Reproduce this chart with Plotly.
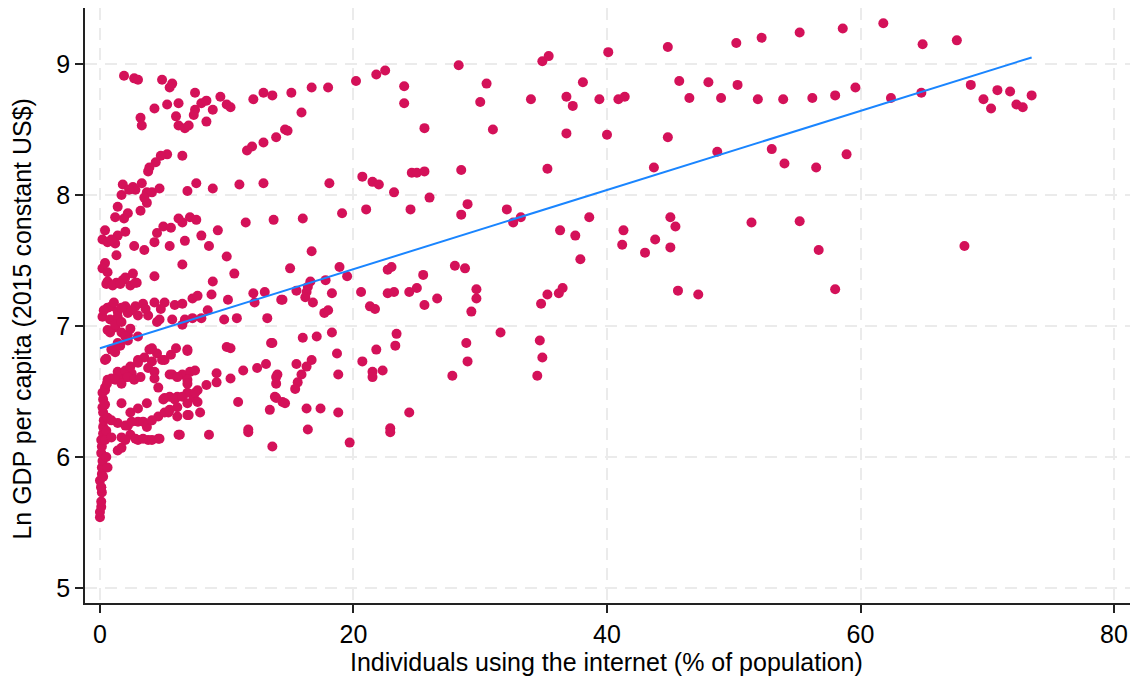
import numpy as np
import plotly.graph_objects as go

# Country-year observations: (internet users, % of population ; ln GDP per capita, 2015 US$)
low_use_rich = [
    (1.9, 8.91), (2.7, 8.89), (3.0, 8.88), (4.9, 8.88), (5.7, 8.85), (5.5, 8.82), (7.5, 8.78), (9.5, 8.75),
    (8.0, 8.70), (8.4, 8.72), (6.2, 8.70), (5.3, 8.69), (4.3, 8.66), (8.9, 8.65), (10.0, 8.69), (10.3, 8.67),
    (12.1, 8.73), (12.9, 8.78), (13.6, 8.76), (6.0, 8.60), (7.5, 8.65), (7.4, 8.61), (8.4, 8.56), (3.2, 8.59),
    (3.3, 8.53), (6.2, 8.53), (6.7, 8.51), (7.0, 8.53), (14.6, 8.50), (13.9, 8.44), (12.9, 8.40), (12.0, 8.37),
    (11.6, 8.34), (6.5, 8.30), (5.3, 8.31), (4.8, 8.30), (4.4, 8.25), (3.9, 8.21), (3.8, 8.18), (1.8, 8.08),
    (1.7, 8.00), (2.6, 8.06), (2.8, 8.04), (3.3, 8.09), (3.7, 8.02), (4.1, 8.02), (4.7, 8.05), (6.9, 8.03),
    (7.6, 8.09), (8.9, 8.05), (11.0, 8.08), (12.9, 8.09),
]

low_use_upper_mid = [
    (2.3, 8.04), (3.7, 7.94), (3.5, 7.98), (3.2, 7.88), (1.4, 7.91), (2.2, 7.86), (1.2, 7.83), (1.9, 7.82),
    (0.4, 7.73), (0.2, 7.66), (0.6, 7.64), (1.4, 7.69), (2.0, 7.72), (1.2, 7.63), (0.9, 7.66), (4.5, 7.71),
    (5.0, 7.76), (5.6, 7.75), (6.2, 7.82), (6.5, 7.79), (7.1, 7.83), (7.6, 7.81), (4.3, 7.64), (2.7, 7.61),
    (3.5, 7.58), (5.5, 7.61), (6.7, 7.65), (8.0, 7.69), (8.6, 7.61), (9.3, 7.73), (11.5, 7.79), (13.7, 7.81),
    (1.3, 7.54), (10.0, 7.53), (0.4, 7.48), (0.2, 7.44), (0.6, 7.41), (0.6, 7.34), (1.3, 7.33), (1.8, 7.35),
    (2.0, 7.37), (2.6, 7.40), (2.9, 7.33), (4.3, 7.38), (6.5, 7.47), (8.9, 7.34), (10.6, 7.40),
]

low_use_mid = [
    (0.5, 7.32), (1.0, 7.31), (1.6, 7.32), (2.4, 7.31), (2.8, 7.33), (0.6, 7.14), (0.9, 7.15), (1.4, 7.11),
    (2.0, 7.15), (2.8, 7.15), (3.4, 7.17), (4.3, 7.18), (5.1, 7.18), (5.9, 7.16), (6.5, 7.17), (7.3, 7.21),
    (7.7, 7.23), (8.8, 7.24), (10.1, 7.20), (12.1, 7.25), (13.0, 7.26), (14.4, 7.20), (0.2, 7.07), (0.8, 7.05),
    (1.4, 7.07), (2.2, 7.10), (3.0, 7.08), (3.8, 7.08), (4.5, 7.03), (4.7, 7.05), (5.7, 7.05), (6.5, 7.01),
    (6.7, 7.05), (7.3, 7.06), (8.0, 7.06), (8.5, 7.12), (9.8, 7.05), (10.8, 7.06), (12.2, 7.18), (13.2, 7.06),
    (0.3, 7.12), (1.1, 7.18), (1.7, 7.14), (2.5, 7.12), (3.6, 7.13), (4.8, 7.13), (0.8, 6.95), (1.2, 6.99),
    (1.7, 6.95), (2.2, 6.93), (3.0, 6.92), (0.6, 6.97), (1.2, 7.01), (1.7, 7.03), (2.4, 6.98),
]

low_use_lower_mid = [
    (0.4, 6.74), (0.9, 6.82), (1.4, 6.87), (2.0, 6.92), (0.5, 6.75), (1.2, 6.80), (1.6, 6.85), (2.2, 6.89),
    (3.0, 6.74), (3.5, 6.76), (3.9, 6.82), (4.5, 6.79), (5.1, 6.74), (5.6, 6.78), (6.0, 6.83), (6.9, 6.82),
    (4.1, 6.83), (4.9, 6.74), (4.1, 6.73), (2.5, 6.64), (2.0, 6.61), (1.4, 6.61), (0.9, 6.60), (1.4, 6.65),
    (2.0, 6.66), (2.4, 6.69), (3.0, 6.72), (3.8, 6.68), (4.3, 6.65), (6.9, 6.81), (10.0, 6.84), (10.3, 6.83),
    (13.5, 6.87), (9.2, 6.64), (10.3, 6.60), (11.3, 6.66), (12.4, 6.68), (13.1, 6.71), (14.0, 6.63), (5.7, 6.63),
    (6.5, 6.63), (7.1, 6.65), (0.6, 6.59), (0.4, 6.51), (1.2, 6.59), (1.7, 6.56), (2.2, 6.61), (2.7, 6.59),
    (3.2, 6.61), (4.3, 6.60), (4.6, 6.53), (5.5, 6.63), (6.1, 6.61), (6.9, 6.59), (7.5, 6.66), (5.1, 6.45),
    (5.5, 6.46), (6.1, 6.46), (6.9, 6.49), (7.4, 6.45), (6.9, 6.56), (7.7, 6.51), (8.4, 6.55), (9.2, 6.57),
    (13.9, 6.61), (13.9, 6.56), (13.8, 6.46), (13.4, 6.36), (14.4, 6.42), (10.9, 6.42),
]

low_use_poor = [
    (0.0, 5.54), (0.0, 5.58), (0.1, 5.62), (0.1, 5.66), (0.15, 5.73), (0.1, 5.77), (0.0, 5.82), (0.15, 5.87),
    (0.15, 5.92), (0.2, 5.97), (0.1, 6.03), (0.15, 6.08), (0.1, 6.13), (0.25, 6.18), (0.25, 6.23), (0.3, 6.28),
    (0.25, 6.34), (0.2, 6.38), (0.25, 6.44), (0.2, 6.49), (0.4, 6.53), (0.55, 6.56), (0.2, 6.13), (0.5, 6.00),
    (0.6, 5.92), (0.25, 5.85), (0.1, 5.77), (0.4, 6.40), (0.5, 6.20), (0.6, 6.30),
    (1.7, 6.41), (2.4, 6.34), (3.0, 6.37), (3.7, 6.41), (5.0, 6.44), (5.9, 6.44), (6.5, 6.46), (6.9, 6.41),
    (1.4, 6.26), (2.2, 6.24), (3.0, 6.27), (3.7, 6.23), (4.6, 6.31), (5.4, 6.34), (6.1, 6.31), (7.0, 6.32),
    (1.7, 6.15), (2.4, 6.17), (3.0, 6.13), (3.8, 6.13), (4.6, 6.14), (6.2, 6.17), (1.4, 6.05), (1.7, 6.07),
    (0.9, 6.28), (2.0, 6.24), (2.5, 6.27), (3.4, 6.27), (4.1, 6.28), (5.1, 6.34), (5.5, 6.36), (6.1, 6.38),
    (7.5, 6.49), (0.4, 6.13), (0.9, 6.15), (2.0, 6.13), (2.8, 6.14), (3.4, 6.14), (4.1, 6.13), (4.7, 6.14),
    (6.3, 6.17), (8.6, 6.17), (11.7, 6.19), (13.6, 6.08), (7.7, 6.42), (7.9, 6.34), (6.9, 6.32), (11.7, 6.21),
]

mid_use = [
    (15.1, 8.78), (16.7, 8.82), (18.0, 8.82), (20.2, 8.87), (21.8, 8.92), (22.5, 8.95), (24.0, 8.83), (24.0, 8.70),
    (28.3, 8.99), (30.5, 8.85), (30.0, 8.71), (31.0, 8.50), (25.6, 8.51), (15.9, 8.63), (14.8, 8.49), (18.1, 8.09),
    (20.7, 8.14), (21.5, 8.10), (22.0, 8.08), (23.2, 8.02), (24.6, 8.17), (25.0, 8.17), (25.6, 8.18), (26.0, 7.98),
    (24.5, 7.89), (28.5, 8.19), (29.0, 7.93), (28.5, 7.85), (32.1, 7.89), (32.6, 7.79), (21.0, 7.89), (19.1, 7.86),
    (16.0, 7.82), (16.7, 7.57), (15.0, 7.44), (18.9, 7.45), (19.5, 7.38), (17.8, 7.35), (16.6, 7.34), (16.4, 7.30),
    (16.3, 7.26), (16.2, 7.22), (16.8, 7.18), (15.5, 7.27), (14.3, 7.20), (18.3, 7.25), (17.7, 7.10), (18.0, 7.12),
    (22.7, 7.43), (23.0, 7.45), (20.6, 7.26), (22.7, 7.25), (23.2, 7.26), (21.3, 7.15), (21.7, 7.13), (24.4, 7.26),
    (25.0, 7.29), (25.5, 7.39), (25.6, 7.16), (26.6, 7.21), (28.0, 7.46), (28.8, 7.44), (29.7, 7.28), (29.7, 7.21),
    (29.3, 7.11), (31.6, 6.95), (13.6, 6.87), (16.0, 6.91), (17.1, 6.92), (18.3, 6.95), (18.7, 6.79), (15.5, 6.71),
    (16.7, 6.74), (16.3, 6.69), (15.9, 6.63), (15.6, 6.57), (15.4, 6.52), (18.8, 6.63), (20.7, 6.73), (21.8, 6.82),
    (21.5, 6.65), (21.5, 6.61), (22.3, 6.66), (23.4, 6.94), (23.3, 6.85), (13.9, 6.45), (14.6, 6.41), (16.3, 6.37),
    (17.4, 6.37), (18.8, 6.34), (24.4, 6.34), (16.4, 6.21), (22.9, 6.22), (22.9, 6.19), (19.7, 6.11), (28.9, 6.87),
    (29.0, 6.73), (27.8, 6.62),
]

high_use = [
    (34.9, 9.02), (35.4, 9.06), (40.1, 9.09), (44.8, 9.13), (50.2, 9.16), (52.2, 9.20), (55.2, 9.24), (34.0, 8.73),
    (36.8, 8.75), (37.3, 8.68), (38.1, 8.86), (39.4, 8.73), (40.9, 8.73), (41.4, 8.75), (45.7, 8.87), (46.5, 8.74),
    (48.0, 8.86), (49.0, 8.74), (50.3, 8.84), (51.9, 8.73), (53.9, 8.73), (36.8, 8.47), (40.0, 8.46), (44.8, 8.44),
    (35.3, 8.20), (43.7, 8.21), (48.7, 8.33), (53.0, 8.35), (54.0, 8.24), (33.2, 7.83), (38.6, 7.83), (36.3, 7.73),
    (41.3, 7.73), (45.0, 7.83), (45.4, 7.76), (51.4, 7.79), (55.2, 7.80), (37.5, 7.69), (37.9, 7.51), (41.2, 7.62),
    (43.0, 7.56), (43.8, 7.66), (45.0, 7.60), (34.8, 7.17), (35.3, 7.24), (36.2, 7.25), (36.5, 7.29), (45.6, 7.27),
    (47.2, 7.24), (34.7, 6.89), (34.9, 6.76), (34.5, 6.62), (58.6, 9.27), (61.8, 9.31), (64.9, 9.15), (67.6, 9.18),
    (56.2, 8.74), (58.0, 8.76), (59.6, 8.82), (62.4, 8.74), (64.8, 8.78), (68.7, 8.84), (69.7, 8.73), (70.3, 8.66),
    (70.8, 8.80), (71.8, 8.79), (72.3, 8.69), (72.8, 8.67), (73.5, 8.76), (56.5, 8.21), (58.9, 8.31), (56.7, 7.58),
    (58.0, 7.28), (68.2, 7.61),
]

# Fitted values from the full-sample linear regression (ln GDP on internet use)
fit_intercept = 6.83
fit_slope = 0.0302

groups = [low_use_rich, low_use_upper_mid, low_use_mid, low_use_lower_mid, low_use_poor, mid_use, high_use]
internet = np.array([p[0] for g in groups for p in g])
ln_gdp = np.array([p[1] for g in groups for p in g])

# Fit line spans the observed range of internet use
fit_x = np.array([internet.min(), internet.max()])
fit_y = fit_intercept + fit_slope * fit_x

x_ticks = [0, 20, 40, 60, 80]
y_ticks = [5, 6, 7, 8, 9]
x_title = "Individuals using the internet (% of population)"
y_title = "Ln GDP per capita (2015 constant US$)"

FONT = "Liberation Sans, Arial, Helvetica, sans-serif"
FSIZE = 25

fig = go.Figure()
fig.add_trace(go.Scatter(
    x=internet, y=ln_gdp, mode="markers",
    marker=dict(color="#d41159", size=10, line=dict(width=0)),
    showlegend=False,
))
fig.add_trace(go.Scatter(
    x=fit_x, y=fit_y, mode="lines",
    line=dict(color="#1a85ff", width=2),
    showlegend=False,
))

axis_common = dict(
    showline=True, linecolor="#222222", linewidth=1.5,
    ticks="outside", ticklen=8, tickwidth=1.5, tickcolor="#222222",
    showgrid=True, gridcolor="#ebebeb", gridwidth=2, griddash="12px,8px",
    zeroline=False,
    tickfont=dict(family=FONT, size=FSIZE, color="#000000"),
)

fig.update_layout(
    width=1137, height=681,
    margin=dict(l=85, r=7, t=8, b=78),
    paper_bgcolor="white", plot_bgcolor="white",
    font=dict(family=FONT, size=FSIZE, color="#000000"),
    xaxis=dict(range=[-1.18, 81.26], tickvals=x_ticks, **axis_common),
    yaxis=dict(range=[4.886, 9.427], tickvals=y_ticks, **axis_common),
    annotations=[
        dict(text=x_title, xref="paper", yref="paper", x=0.4986, y=-0.0992,
             xanchor="center", yanchor="middle", showarrow=False,
             font=dict(family=FONT, size=FSIZE, color="#000000")),
        dict(text=y_title, xref="paper", yref="paper", x=-0.0603, y=0.478,
             xanchor="center", yanchor="middle", textangle=-90, showarrow=False,
             font=dict(family=FONT, size=FSIZE, color="#000000")),
    ],
)

fig.write_html("out.html")
